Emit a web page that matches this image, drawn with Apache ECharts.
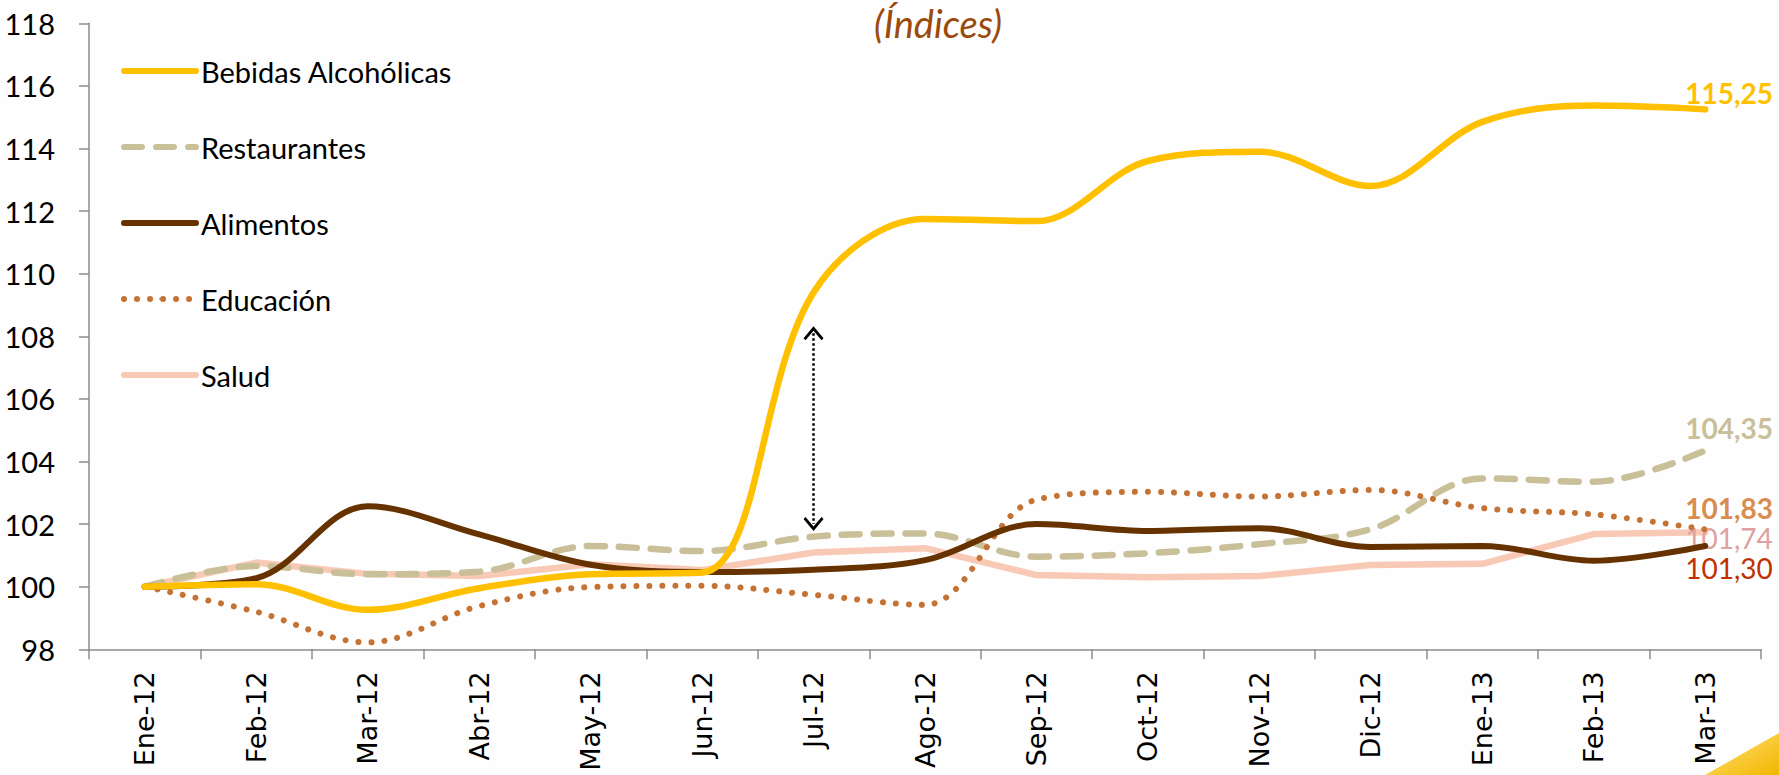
<!DOCTYPE html>
<html>
<head>
<meta charset="utf-8">
<script src="https://cdn.jsdelivr.net/npm/echarts@6/dist/echarts.min.js"></script>
<style>
html,body{margin:0;padding:0;background:#fefefe;}
#chart{width:1779px;height:775px;}
</style>
</head>
<body>
<div id="chart"></div>
<script>
const categories = ['Ene-12','Feb-12','Mar-12','Abr-12','May-12','Jun-12','Jul-12','Ago-12','Sep-12','Oct-12','Nov-12','Dic-12','Ene-13','Feb-13','Mar-13'];
const bebidas      = [100, 100.08, 99.26, 99.95, 100.40, 100.45, 109.40, 111.75, 111.68, 113.60, 113.90, 112.80, 114.85, 115.37, 115.25];
const restaurantes = [100, 100.66, 100.40, 100.48, 101.30, 101.14, 101.60, 101.70, 100.96, 101.07, 101.36, 101.84, 103.46, 103.35, 104.35];
const alimentos    = [100, 100.27, 102.57, 101.67, 100.70, 100.47, 100.54, 100.85, 102.00, 101.78, 101.87, 101.27, 101.30, 100.83, 101.30];
const educacion    = [100, 99.20, 98.22, 99.38, 99.99, 100.03, 99.74, 99.42, 102.78, 103.03, 102.88, 103.09, 102.51, 102.31, 101.83];
const salud        = [100, 100.77, 100.41, 100.34, 100.72, 100.53, 101.09, 101.23, 100.37, 100.30, 100.34, 100.69, 100.73, 101.68, 101.74];
const yTicks = {min: 98, max: 118, interval: 2};
const arrowCategory = 'Jul-12';
const arrowRange = [108.1, 102.0];
const titleText = '(Índices)';

const chart = echarts.init(document.getElementById('chart'), null, {renderer: 'svg'});
const fmt = p => Number(p.value).toFixed(2).replace('.', ',');
const LBL = 'Lato, "Noto Sans", sans-serif';
const SM = 0.35;
function endLbl(color, bold, dy) {
  return {show: true, formatter: fmt, color: color, fontFamily: LBL, fontSize: 28,
          fontWeight: bold ? 'bold' : 'normal', distance: 0, offset: [-20, dy], align: 'left', verticalAlign: 'middle'};
}
const chevron = 'path://M10,0 L20,12 L18,14 L10,4.5 L2,14 L0,12 Z';

chart.setOption({
  animation: false,
  backgroundColor: '#fefefe',
  grid: {left: 89, right: 18, top: 23.3, bottom: 125.7, containLabel: false, outerBoundsMode: 'none'},
  legend: {
    orient: 'vertical', left: 116, top: 51,
    itemWidth: 72, itemHeight: 2, itemGap: 46,
    lineStyle: {width: 6, cap: 'round'},
    textStyle: {fontFamily: LBL, fontSize: 29, color: '#000', lineHeight: 30},
    data: ['Bebidas Alcohólicas', 'Restaurantes', 'Alimentos', 'Educación', 'Salud']
  },
  xAxis: {
    type: 'category', data: categories, boundaryGap: true,
    axisLine: {lineStyle: {color: '#8c8c8c', width: 1.5}},
    axisTick: {show: true, length: 10, lineStyle: {color: '#8c8c8c', width: 1.5}},
    axisLabel: {rotate: 90, margin: 22, interval: 0, fontFamily: '"DejaVu Sans", Verdana, sans-serif', fontSize: 27, color: '#000'},
    splitLine: {show: false}
  },
  yAxis: {
    type: 'value', min: yTicks.min, max: yTicks.max, interval: yTicks.interval,
    axisLine: {show: true, lineStyle: {color: '#8c8c8c', width: 1.5}},
    axisTick: {show: true, length: 10, lineStyle: {color: '#8c8c8c', width: 1.5}},
    axisLabel: {margin: 34, fontFamily: LBL, fontSize: 29, color: '#000'},
    splitLine: {show: false}
  },
  graphic: [
    {type: 'text', x: 938, y: 23, style: {text: titleText, align: 'center', verticalAlign: 'middle',
      font: 'italic 38px Lato, "Noto Sans", sans-serif', fill: '#9c4a0b'}},
    {type: 'polygon', silent: true, shape: {points: [[1705, 775], [1779, 733], [1779, 775]]},
      style: {fill: {type: 'linear', x: 0, y: 0, x2: 1, y2: 1, colorStops: [{offset: 0, color: '#ffe27a'}, {offset: 1, color: '#f2b600'}]}}}
  ],
  series: [
    {name: 'Bebidas Alcohólicas', type: 'line', data: bebidas, smooth: SM, symbol: 'none',
      lineStyle: {color: '#ffc000', width: 6.5, cap: 'round'}, itemStyle: {color: '#ffc000'},
      endLabel: endLbl('#ffc000', true, -16), z: 5,
      markLine: {silent: true, symbol: [chevron, chevron], symbolSize: [20, 14],
        lineStyle: {type: 'dotted', color: '#000', width: 2.5}, label: {show: false},
        data: [[{coord: [arrowCategory, arrowRange[0]]}, {coord: [arrowCategory, arrowRange[1]]}]]}},
    {name: 'Restaurantes', type: 'line', data: restaurantes, smooth: SM, symbol: 'none',
      lineStyle: {color: '#c9bf99', width: 6.5, type: [18, 14], cap: 'round'}, itemStyle: {color: '#c9bf99'},
      endLabel: endLbl('#c9bf99', true, -23), z: 3},
    {name: 'Alimentos', type: 'line', data: alimentos, smooth: SM, symbol: 'none',
      lineStyle: {color: '#663300', width: 6, cap: 'round'}, itemStyle: {color: '#663300'},
      endLabel: endLbl('#c03000', false, 22), z: 4},
    {name: 'Educación', type: 'line', data: educacion, smooth: SM, symbol: 'none',
      lineStyle: {color: '#c47335', width: 6, type: [0.01, 13], cap: 'round'}, itemStyle: {color: '#c47335'},
      endLabel: endLbl('#d98c50', true, -21), z: 3},
    {name: 'Salud', type: 'line', data: salud, smooth: false, symbol: 'none',
      lineStyle: {color: '#f8cab6', width: 6.5, join: 'round', cap: 'round'}, itemStyle: {color: '#f8cab6'},
      endLabel: endLbl('#dfa0a0', false, 6), z: 2}
  ]
});
</script>
</body>
</html>
